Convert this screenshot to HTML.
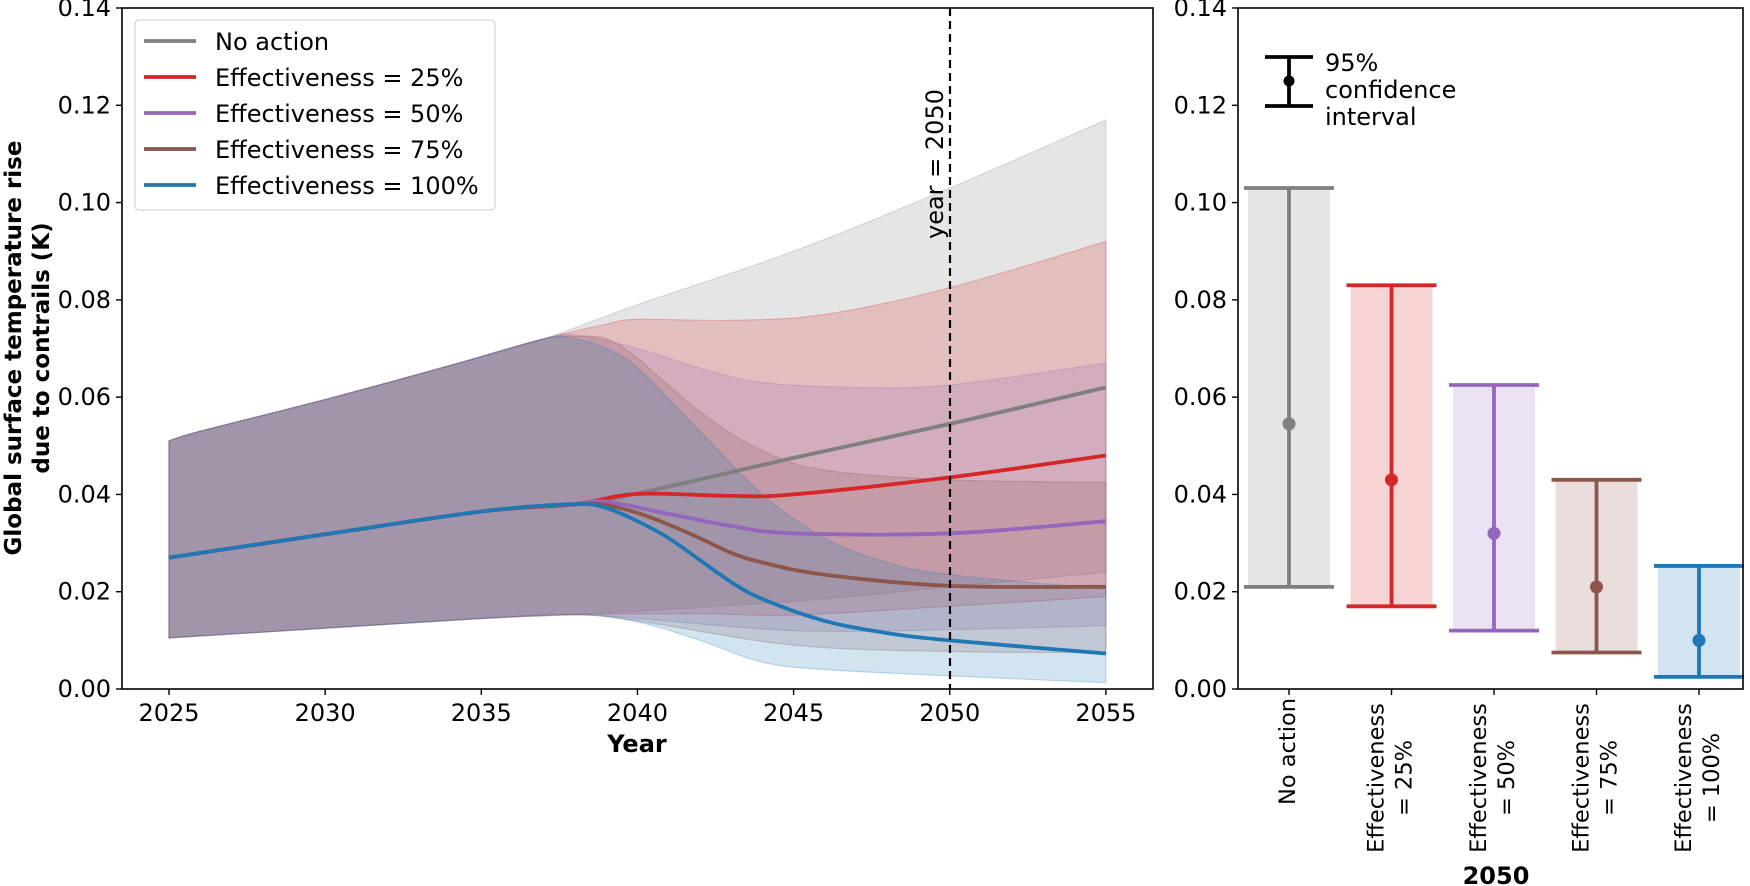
<!DOCTYPE html>
<html><head><meta charset="utf-8"><style>
body{margin:0;background:#fff}
svg{display:block;font-family:"DejaVu Sans","Liberation Sans",sans-serif}
</style></head><body>
<svg id="s" width="1750" height="886" viewBox="0 0 1750 886" xmlns="http://www.w3.org/2000/svg">
<g id="fills"></g><g id="lines"></g>
<line x1="950" y1="8" x2="950" y2="689" stroke="#000" stroke-width="2.2" stroke-dasharray="8,5"/>
<text transform="translate(943,164) rotate(-90)" text-anchor="middle" font-size="24">year = 2050</text>
<rect x="122" y="8" width="1031" height="681" fill="none" stroke="#000" stroke-width="1.6"/>
<g id="axL" font-size="24"></g>
<text x="637" y="752" text-anchor="middle" font-size="24" font-weight="bold">Year</text>
<text transform="translate(21,348) rotate(-90)" text-anchor="middle" font-size="23" font-weight="bold">Global surface temperature rise</text>
<text transform="translate(49,348) rotate(-90)" text-anchor="middle" font-size="23" font-weight="bold">due to contrails (K)</text>
<g>
<rect x="135" y="20" width="360" height="190" rx="4" fill="#fff" fill-opacity="0.8" stroke="#ccc"/>
<g stroke-width="3.8">
<line x1="144" x2="196" y1="41" y2="41" stroke="#7f7f7f"/>
<line x1="144" x2="196" y1="77" y2="77" stroke="#d62728"/>
<line x1="144" x2="196" y1="113" y2="113" stroke="#9467bd"/>
<line x1="144" x2="196" y1="149" y2="149" stroke="#8c564b"/>
<line x1="144" x2="196" y1="185" y2="185" stroke="#1f77b4"/>
</g>
<g font-size="24">
<text x="215" y="50">No action</text>
<text x="215" y="86">Effectiveness = 25%</text>
<text x="215" y="122">Effectiveness = 50%</text>
<text x="215" y="158">Effectiveness = 75%</text>
<text x="215" y="194">Effectiveness = 100%</text>
</g></g>
<g id="right"></g>
<rect x="1238" y="8" width="505" height="681" fill="none" stroke="#000" stroke-width="1.6"/>
<g id="axR" font-size="24"></g>
<g id="xr" font-size="22.5"></g>
<text x="1496" y="884" text-anchor="middle" font-size="24" font-weight="bold">2050</text>
<g stroke="#000" stroke-width="3.8">
<line x1="1265" x2="1313" y1="57" y2="57"/><line x1="1265" x2="1313" y1="106" y2="106"/><line x1="1289" x2="1289" y1="57" y2="106"/>
</g><circle cx="1289" cy="81" r="5.5" fill="#000"/>
<g font-size="24"><text x="1325" y="71">95%</text><text x="1325" y="98">confidence</text><text x="1325" y="125">interval</text></g>
</svg>
<script>
const NS="http://www.w3.org/2000/svg";
const X=y=>169+(y-2025)*31.23, Y=v=>689-v*4864.3;
function el(p,t,a,txt){const e=document.createElementNS(NS,t);for(const k in a)e.setAttribute(k,a[k]);if(txt)e.textContent=txt;document.getElementById(p).appendChild(e);return e;}
function pts(arr){return arr.map(([y,v])=>[X(y),Y(v)]);}
function cr(P){let d="";for(let i=0;i<P.length-1;i++){const p0=P[i-1]||P[i],p1=P[i],p2=P[i+1],p3=P[i+2]||P[i+1];
const c1=[p1[0]+(p2[0]-p0[0])/6,p1[1]+(p2[1]-p0[1])/6],c2=[p2[0]-(p3[0]-p1[0])/6,p2[1]-(p3[1]-p1[1])/6];
d+=` C${c1[0].toFixed(1)},${c1[1].toFixed(1)} ${c2[0].toFixed(1)},${c2[1].toFixed(1)} ${p2[0].toFixed(1)},${p2[1].toFixed(1)}`;}return d;}
const UP0=[[2025,0.051],[2026,0.053],[2030,0.0595],[2034,0.0665],[2037,0.072]];
const LO0=[[2025,0.0105],[2030,0.0125],[2035,0.0145],[2038,0.0153]];
const M0=[[2025,0.027],[2030,0.0318],[2035,0.0365],[2038,0.038]];
const S=[
{c:"#7f7f7f",up:[...UP0,[2040,0.079],[2045,0.090],[2050,0.103],[2055,0.117]],lo:[...LO0,[2045,0.018],[2050,0.021],[2055,0.024]],m:[...M0,[2040,0.0402],[2045,0.0475],[2050,0.0545],[2055,0.062]]},
{c:"#d62728",up:[...UP0,[2039,0.075],[2040,0.076],[2043,0.0758],[2046,0.077],[2050,0.0825],[2055,0.092]],lo:[...LO0,[2042,0.0155],[2045,0.0152],[2050,0.017],[2055,0.019]],m:[...M0,[2040,0.0401],[2043,0.0397],[2045,0.040],[2050,0.0435],[2055,0.048]]},
{c:"#9467bd",up:[...UP0,[2038,0.0728],[2040,0.070],[2042,0.066],[2044,0.063],[2047,0.062],[2050,0.0625],[2055,0.067]],lo:[...LO0,[2040,0.0145],[2045,0.012],[2050,0.0122],[2055,0.013]],m:[...M0,[2039,0.0385],[2041,0.036],[2043,0.0335],[2045,0.032],[2050,0.032],[2055,0.0345]]},
{c:"#8c564b",up:[...UP0,[2038,0.0725],[2039,0.072],[2040,0.068],[2042,0.057],[2044,0.049],[2046,0.045],[2050,0.043],[2055,0.0425]],lo:[...LO0,[2040,0.014],[2045,0.009],[2050,0.0077],[2055,0.0075]],m:[...M0,[2039,0.0378],[2040,0.0362],[2041,0.0338],[2042,0.031],[2043,0.028],[2044,0.026],[2046,0.0235],[2050,0.0212],[2055,0.021]]},
{c:"#1f77b4",up:[...UP0,[2038,0.072],[2039,0.070],[2040,0.066],[2042,0.053],[2044,0.040],[2046,0.031],[2048,0.026],[2050,0.0235],[2055,0.0205]],lo:[...LO0,[2040,0.0138],[2042,0.010],[2044,0.0055],[2046,0.004],[2050,0.0027],[2055,0.0013]],m:[...M0,[2039,0.0372],[2040,0.0345],[2041,0.031],[2042,0.0265],[2043,0.022],[2044,0.0185],[2046,0.014],[2048,0.0115],[2050,0.010],[2055,0.0073]]}];
S.forEach(s=>{const U=pts(s.up),L=pts(s.lo).reverse();
el("fills","path",{d:`M${U[0][0]},${U[0][1]}`+cr(U)+` L${L[0][0]},${L[0][1]}`+cr(L)+"Z",fill:s.c,"fill-opacity":0.2,stroke:s.c,"stroke-opacity":0.25,"stroke-width":1.2});
const M=pts(s.m);el("lines","path",{d:`M${M[0][0]},${M[0][1]}`+cr(M),fill:"none",stroke:s.c,"stroke-width":3.8});});
for(let i=0;i<=7;i++){const v=i*0.02,y=Y(v);
el("axL","line",{x1:116,x2:122,y1:y,y2:y,stroke:"#000","stroke-width":1.4});
el("axL","text",{x:111,y:y+8,"text-anchor":"end"},v.toFixed(2));
el("axR","line",{x1:1232,x2:1238,y1:y,y2:y,stroke:"#000","stroke-width":1.4});
el("axR","text",{x:1227,y:y+8,"text-anchor":"end"},v.toFixed(2));}
for(let yr=2025;yr<=2055;yr+=5){const x=X(yr);el("axL","line",{x1:x,x2:x,y1:689,y2:695,stroke:"#000","stroke-width":1.4});el("axL","text",{x:x,y:721,"text-anchor":"middle"},yr);}
const B=[[0.103,0.021,0.0545],[0.083,0.017,0.043],[0.0625,0.012,0.032],[0.043,0.0075,0.021],[0.0253,0.0025,0.010]];
const labs=["= 25%","= 50%","= 75%","= 100%"];
B.forEach((b,i)=>{const cx=1289+i*102.5,c=S[i].c;
el("right","rect",{x:cx-41,y:Y(b[0]),width:82,height:Y(b[1])-Y(b[0]),fill:c,"fill-opacity":0.2});
el("right","line",{x1:cx-45,x2:cx+45,y1:Y(b[0]),y2:Y(b[0]),stroke:c,"stroke-width":3.8});
el("right","line",{x1:cx-45,x2:cx+45,y1:Y(b[1]),y2:Y(b[1]),stroke:c,"stroke-width":3.8});
el("right","line",{x1:cx,x2:cx,y1:Y(b[0]),y2:Y(b[1]),stroke:c,"stroke-width":3.8});
el("right","circle",{cx:cx,cy:Y(b[2]),r:6.5,fill:c});
el("axR","line",{x1:cx,x2:cx,y1:689,y2:695,stroke:"#000","stroke-width":1.4});
if(i==0){el("xr","text",{transform:`translate(${cx+6},698) rotate(-90)`,"text-anchor":"end"},"No action");}
else{
el("xr","text",{transform:`translate(${cx-8},778) rotate(-90)`,"text-anchor":"middle"},"Effectiveness");
el("xr","text",{transform:`translate(${cx+20},778) rotate(-90)`,"text-anchor":"middle"},labs[i-1]);}
});
</script>
</body></html>
